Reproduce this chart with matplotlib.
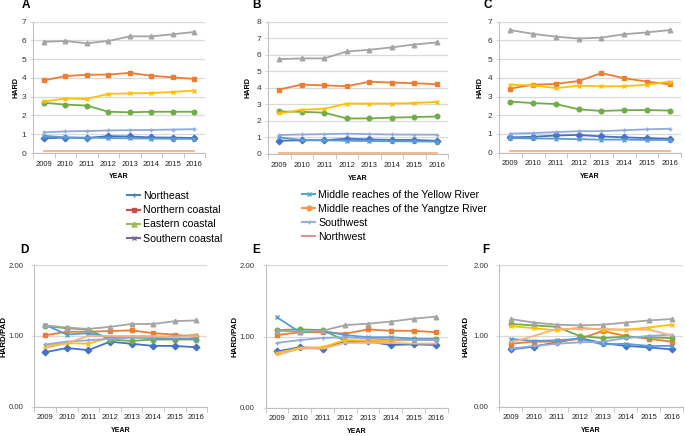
import matplotlib
matplotlib.use("Agg")
import matplotlib.pyplot as plt
from matplotlib.lines import Line2D

plt.rcParams['font.family'] = ['Liberation Sans', 'DejaVu Sans']

years = ["2009", "2010", "2011", "2012", "2013", "2014", "2015", "2016"]
regions = ["Northeast", "Northern coastal", "Eastern coastal", "Southern coastal",
           "Middle reaches of the Yellow River", "Middle reaches of the Yangtze River",
           "Southwest", "Northwest"]

# HARD, panel A
hard_A = {
    "Northeast": [0.78, 0.82, 0.80, 0.90, 0.88, 0.83, 0.82, 0.80],
    "Northern coastal": [3.87, 4.10, 4.17, 4.18, 4.27, 4.12, 4.03, 3.95],
    "Eastern coastal": [2.68, 2.58, 2.53, 2.20, 2.17, 2.20, 2.20, 2.20],
    "Southern coastal": [2.75, 2.90, 2.88, 3.15, 3.18, 3.20, 3.25, 3.33],
    "Middle reaches of the Yellow River": [0.92, 0.83, 0.82, 0.80, 0.78, 0.77, 0.76, 0.75],
    "Middle reaches of the Yangtze River": [5.93, 5.97, 5.85, 5.97, 6.22, 6.22, 6.33, 6.45],
    "Southwest": [1.10, 1.15, 1.17, 1.20, 1.22, 1.23, 1.25, 1.27],
    "Northwest": [0.08, 0.08, 0.08, 0.08, 0.08, 0.08, 0.08, 0.08],
}
# HARD, panel B
hard_B = {
    "Northeast": [0.80, 0.83, 0.83, 0.93, 0.88, 0.85, 0.85, 0.80],
    "Northern coastal": [3.90, 4.20, 4.15, 4.10, 4.37, 4.32, 4.28, 4.22],
    "Eastern coastal": [2.57, 2.55, 2.50, 2.15, 2.15, 2.20, 2.23, 2.27],
    "Southern coastal": [2.45, 2.68, 2.73, 3.05, 3.05, 3.05, 3.08, 3.15],
    "Middle reaches of the Yellow River": [1.00, 0.85, 0.83, 0.80, 0.78, 0.77, 0.76, 0.75],
    "Middle reaches of the Yangtze River": [5.73, 5.78, 5.78, 6.20, 6.30, 6.45, 6.62, 6.75],
    "Southwest": [1.15, 1.18, 1.20, 1.23, 1.20, 1.18, 1.17, 1.17],
    "Northwest": [0.08, 0.08, 0.08, 0.08, 0.08, 0.08, 0.08, 0.08],
}
# HARD, panel C
hard_C = {
    "Northeast": [0.82, 0.85, 0.92, 0.95, 0.87, 0.82, 0.78, 0.75],
    "Northern coastal": [3.43, 3.63, 3.68, 3.83, 4.25, 3.98, 3.80, 3.65],
    "Eastern coastal": [2.73, 2.65, 2.60, 2.32, 2.23, 2.27, 2.28, 2.25],
    "Southern coastal": [3.63, 3.60, 3.45, 3.58, 3.55, 3.55, 3.63, 3.80],
    "Middle reaches of the Yellow River": [0.78, 0.76, 0.75, 0.72, 0.70, 0.70, 0.68, 0.68],
    "Middle reaches of the Yangtze River": [6.55, 6.35, 6.20, 6.10, 6.15, 6.33, 6.43, 6.55],
    "Southwest": [1.02, 1.05, 1.10, 1.15, 1.15, 1.20, 1.25, 1.28],
    "Northwest": [0.08, 0.08, 0.08, 0.08, 0.08, 0.08, 0.08, 0.08],
}
# HARD/PAD, panel D
ratio_D = {
    "Northeast": [0.77, 0.83, 0.80, 0.92, 0.89, 0.86, 0.86, 0.84],
    "Northern coastal": [1.01, 1.06, 1.06, 1.07, 1.08, 1.04, 1.02, 0.98],
    "Eastern coastal": [1.14, 1.11, 1.09, 0.95, 0.93, 0.95, 0.95, 0.95],
    "Southern coastal": [0.86, 0.90, 0.89, 0.98, 0.98, 0.98, 0.99, 1.02],
    "Middle reaches of the Yellow River": [1.16, 1.02, 1.04, 0.98, 0.98, 0.97, 0.96, 0.96],
    "Middle reaches of the Yangtze River": [1.15, 1.12, 1.10, 1.13, 1.17, 1.17, 1.21, 1.22],
    "Southwest": [0.88, 0.92, 0.94, 0.96, 0.98, 0.98, 1.00, 1.01],
    "Northwest": [0.83, 0.90, 1.00, 1.00, 1.00, 1.00, 0.98, 1.00],
}
# HARD/PAD, panel E
ratio_E = {
    "Northeast": [0.79, 0.85, 0.83, 0.94, 0.93, 0.88, 0.89, 0.88],
    "Northern coastal": [1.02, 1.06, 1.06, 1.04, 1.10, 1.08, 1.08, 1.06],
    "Eastern coastal": [1.09, 1.10, 1.09, 0.94, 0.93, 0.95, 0.96, 0.97],
    "Southern coastal": [0.77, 0.84, 0.85, 0.95, 0.94, 0.94, 0.95, 0.96],
    "Middle reaches of the Yellow River": [1.27, 1.06, 1.08, 1.02, 0.99, 0.99, 0.97, 0.96],
    "Middle reaches of the Yangtze River": [1.08, 1.07, 1.08, 1.16, 1.18, 1.21, 1.25, 1.28],
    "Southwest": [0.91, 0.95, 0.98, 0.99, 0.97, 0.96, 0.95, 0.95],
    "Northwest": [0.74, 0.83, 0.83, 0.91, 0.91, 0.91, 0.90, 0.90],
}
# HARD/PAD, panel F
ratio_F = {
    "Northeast": [0.81, 0.85, 0.91, 0.97, 0.90, 0.86, 0.84, 0.81],
    "Northern coastal": [0.89, 0.92, 0.92, 0.96, 1.07, 1.00, 0.96, 0.92],
    "Eastern coastal": [1.17, 1.15, 1.13, 1.00, 0.97, 0.99, 0.98, 0.97],
    "Southern coastal": [1.14, 1.11, 1.08, 1.12, 1.09, 1.09, 1.12, 1.16],
    "Middle reaches of the Yellow River": [0.96, 0.93, 0.94, 0.96, 0.88, 0.89, 0.86, 0.86],
    "Middle reaches of the Yangtze River": [1.24, 1.19, 1.16, 1.15, 1.16, 1.19, 1.22, 1.24],
    "Southwest": [0.82, 0.86, 0.89, 0.91, 0.92, 0.97, 1.00, 1.02],
    "Northwest": [0.91, 1.00, 1.10, 1.10, 1.10, 1.09, 1.09, 1.01],
}

# line colours / markers as drawn in the panels
line_style = {
    "Northeast": ("#4472C4", "D"),
    "Northern coastal": ("#ED7D31", "s"),
    "Eastern coastal": ("#70AD47", "o"),
    "Southern coastal": ("#FFC000", "x"),
    "Middle reaches of the Yellow River": ("#5B9BD5", "x"),
    "Middle reaches of the Yangtze River": ("#A5A5A5", "^"),
    "Southwest": ("#8FAADC", "+"),
    "Northwest": ("#F4B183", ""),
}
# colours shown in the legend
legend_style = {
    "Northeast": ("#4F81BD", "+"),
    "Northern coastal": ("#C0504D", "s"),
    "Eastern coastal": ("#9BBB59", "^"),
    "Southern coastal": ("#8064A2", "x"),
    "Middle reaches of the Yellow River": ("#4BACC6", "x"),
    "Middle reaches of the Yangtze River": ("#F79646", "o"),
    "Southwest": ("#95B3D7", "+"),
    "Northwest": ("#D99694", ""),
}

W, H = 685, 436
fig = plt.figure(figsize=(W / 100, H / 100), dpi=100)


def add_axes_px(left, top, right, bottom):
    return fig.add_axes([left / W, 1 - bottom / H, (right - left) / W, (bottom - top) / H])


# letter, data, axes box in px (left, top, right, bottom), ymax, ylabel, ylabel right edge, letter x
panels = [
    ("A", hard_A, (33, 21.7, 205, 153), 7, "HARD", 19, 22),
    ("B", hard_B, (268, 21.7, 448, 154), 8, "HARD", 252, 252),
    ("C", hard_C, (499, 21.7, 681, 152.7), 7, "HARD", 484, 483),
    ("D", ratio_D, (34.3, 265.3, 207.3, 406.7), 2, "HARD/PAD", 8, 20),
    ("E", ratio_E, (265.7, 265.3, 447.7, 407.7), 2, "HARD/PAD", 239, 252),
    ("F", ratio_F, (499.3, 265.3, 683, 406.7), 2, "HARD/PAD", 469, 482),
]

x = list(range(len(years)))
for letter, data, box, ymax, ylab, ylab_x, let_x in panels:
    ax = add_axes_px(*box)
    for name in regions:
        c, m = line_style[name]
        ax.plot(x, data[name], color=c, marker=m, lw=1.3, ms=3.3, mew=1.0)
    ax.set_xlim(-0.5, 7.5)
    ax.set_ylim(0, ymax)
    ax.set_xticks(x)
    ax.set_xticklabels(years, fontsize=5.5)
    ax.set_xticks([i - 0.5 for i in range(9)], minor=True)
    ax.tick_params(axis="x", which="major", length=0, pad=5.5, colors="#222222")
    ax.tick_params(axis="x", which="minor", length=3.5, color="#BFBFBF")
    if ymax == 2:
        ax.set_yticks([0, 1, 2])
        ax.set_yticklabels(["0.00", "1.00", "2.00"], fontsize=5.6)
        ax.tick_params(axis="y", length=2, pad=6)
        ylab_size = 5.7
    else:
        ax.set_yticks(range(ymax + 1))
        ax.tick_params(axis="y", labelsize=6, length=2, pad=3)
        ylab_size = 5.2
    ax.tick_params(axis="y", color="#D9D9D9", labelcolor="#333333")
    ax.grid(axis="y", color="#D9D9D9", lw=0.9)
    ax.set_axisbelow(True)
    for s in ("top", "right"):
        ax.spines[s].set_visible(False)
    ax.spines["left"].set_color("#BFBFBF")
    ax.spines["bottom"].set_color("#BFBFBF")
    ax.set_ylabel(ylab, fontsize=ylab_size, fontweight="bold")
    ax.yaxis.set_label_coords(ylab_x / W, 1 - (box[1] + box[3]) / 2 / H, transform=fig.transFigure)
    ax.set_xlabel("YEAR", fontsize=5, fontweight="bold")
    ax.xaxis.set_label_coords(((box[0] + box[2]) / 2) / W, 1 - (box[3] + 20.5) / H, transform=fig.transFigure)
    let_y = 5.5 if box[1] < 100 else 250
    fig.text(let_x / W, 1 - let_y / H, letter, fontsize=8.5, fontweight="bold",
             va="center", ha="left")


def legend_handles(names):
    hs = []
    for n in names:
        c, m = legend_style[n]
        hs.append(Line2D([], [], color=c, marker=m, lw=1.5, ms=3.5))
    return hs


left_names = regions[:4]
right_names = regions[4:]
fig.legend(legend_handles(left_names), left_names, loc="upper left",
           bbox_to_anchor=(127 / W, 1 - 191 / H), frameon=False, fontsize=7.6,
           handlelength=1.25, handletextpad=0.3, labelspacing=0.4, borderpad=0, borderaxespad=0)
fig.legend(legend_handles(right_names), right_names, loc="upper left",
           bbox_to_anchor=(302 / W, 1 - 189.5 / H), frameon=False, fontsize=7.6,
           handlelength=1.25, handletextpad=0.3, labelspacing=0.4, borderpad=0, borderaxespad=0)

fig.savefig("out.png", dpi=100)
